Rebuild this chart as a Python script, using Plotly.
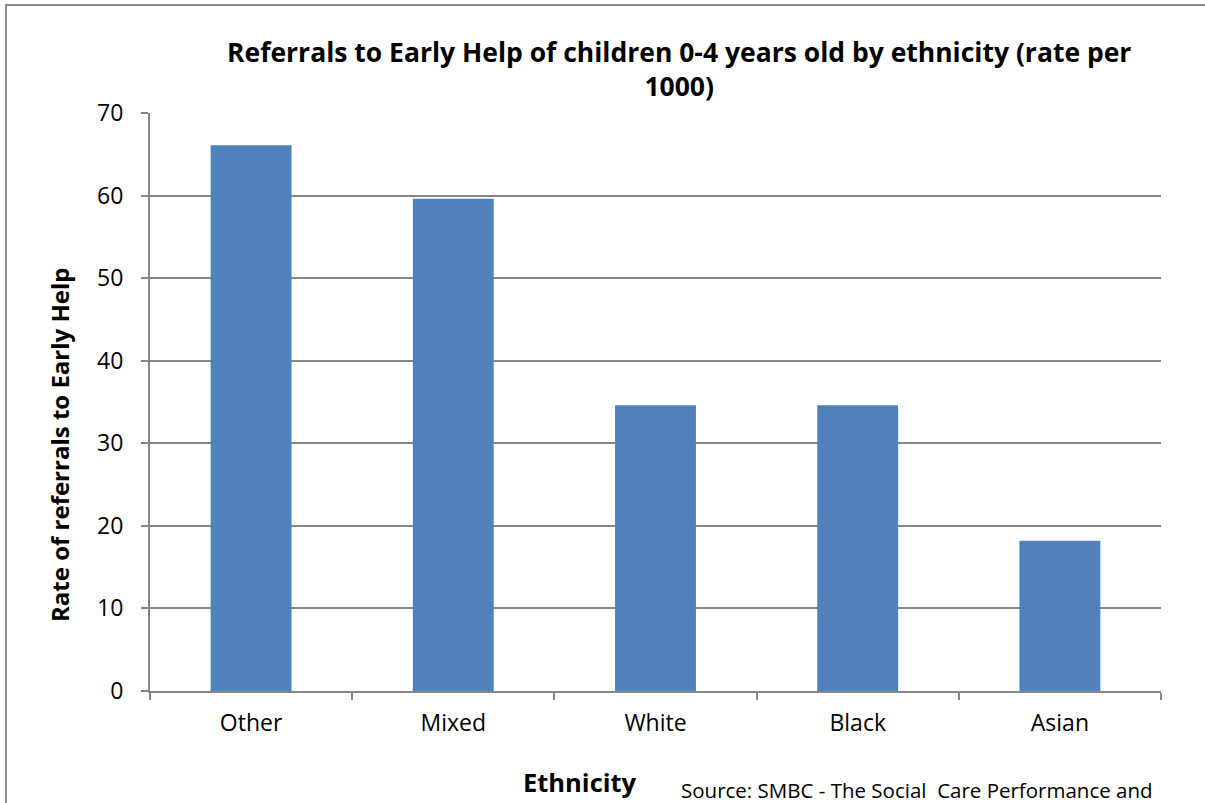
import plotly.graph_objects as go

# Referral rates per 1000 children aged 0-4, by ethnicity
ethnicity = ["Other", "Mixed", "White", "Black", "Asian"]
rate_per_1000 = [66.1, 59.6, 34.6, 34.6, 18.2]
y_ticks = [0, 10, 20, 30, 40, 50, 60, 70]

W, H = 1205, 803
L, R, T, B = 150, 44, 113, 112
pw, ph = W - L - R, H - T - B

def px(x):
    return (x - L) / pw

def py(y):
    return (H - B - y) / ph

FONT = "Open Sans"
GRID = "#868686"

fig = go.Figure(
    go.Bar(
        x=ethnicity,
        y=rate_per_1000,
        marker=dict(color="#4F81BD", line=dict(color="#4F81BD", width=0)),
        width=0.4,
    )
)

fig.update_layout(
    width=W,
    height=H,
    margin=dict(l=L, r=R, t=T, b=B),
    paper_bgcolor="white",
    plot_bgcolor="white",
    showlegend=False,
    font=dict(family=FONT, color="black"),
    xaxis=dict(
        showline=True,
        linecolor=GRID,
        linewidth=2,
        ticks="outside",
        tickson="boundaries",
        ticklen=7,
        tickcolor=GRID,
        tickwidth=2,
        tickfont=dict(size=23, family=FONT),
        ticklabelstandoff=10,
        showgrid=False,
    ),
    yaxis=dict(
        range=[0, 70],
        tickvals=y_ticks,
        showline=True,
        linecolor=GRID,
        linewidth=2,
        ticks="outside",
        ticklen=7,
        tickcolor=GRID,
        tickwidth=2,
        tickfont=dict(size=23, family=FONT),
        ticklabelstandoff=13,
        showgrid=True,
        gridcolor=GRID,
        gridwidth=1.5,
        zeroline=False,
    ),
    annotations=[
        dict(
            text="<b>Referrals to Early Help of children 0-4 years old by ethnicity (rate per<br>1000)</b>",
            xref="paper", yref="paper",
            x=px(679), y=py(69),
            xanchor="center", yanchor="middle",
            showarrow=False,
            font=dict(size=26.5, family=FONT),
            align="center",
        ),
        dict(
            text="<b>Rate of referrals to Early Help</b>",
            xref="paper", yref="paper",
            x=px(60), y=py(445),
            xanchor="center", yanchor="middle",
            textangle=-90,
            showarrow=False,
            font=dict(size=24, family=FONT),
        ),
        dict(
            text="<b>Ethnicity</b>",
            xref="paper", yref="paper",
            x=px(580), y=py(782),
            xanchor="center", yanchor="middle",
            showarrow=False,
            font=dict(size=25.5, family=FONT),
        ),
        dict(
            text="Source: SMBC - The Social  Care Performance and",
            xref="paper", yref="paper",
            x=px(679), y=py(790),
            xanchor="left", yanchor="middle",
            showarrow=False,
            font=dict(size=20.5, family=FONT),
        ),
    ],
    shapes=[
        # outer chart frame (continues past the right and bottom edges)
        dict(
            type="rect", xref="paper", yref="paper",
            x0=px(6), x1=px(W + 20), y0=py(H + 20), y1=py(5),
            line=dict(color="#8c8c8c", width=2),
            fillcolor="rgba(0,0,0,0)",
            layer="below",
        ),
    ],
)

fig.write_html("out.html")
